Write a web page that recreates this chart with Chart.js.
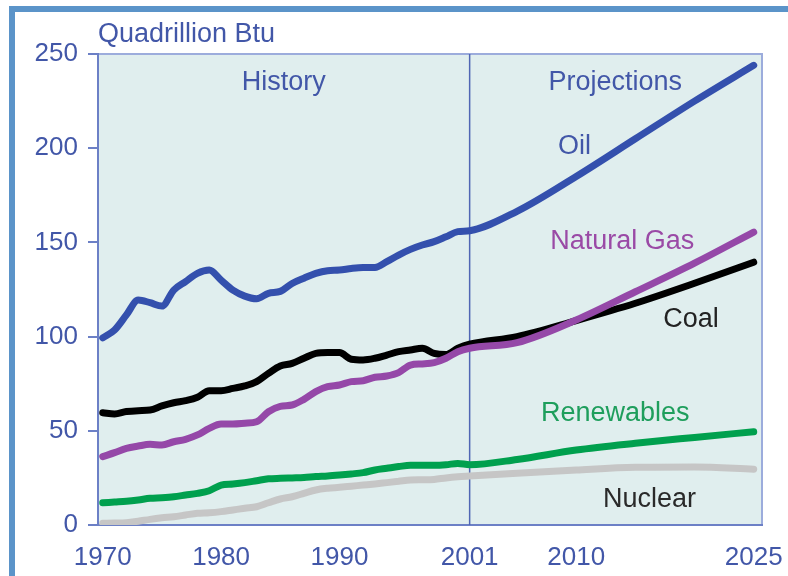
<!DOCTYPE html>
<html>
<head>
<meta charset="utf-8">
<script src="https://cdn.jsdelivr.net/npm/chart.js@4.4.0/dist/chart.umd.min.js"></script>
<style>
  html, body { margin: 0; padding: 0; background: #ffffff; }
  #wrap { width: 788px; height: 576px; }
</style>
</head>
<body>
<div id="wrap"><canvas id="energyChart" width="788" height="576"></canvas></div>
<script>
// ===== DATA =====
const histYears = [1970, 1971, 1972, 1973, 1974, 1975, 1976, 1977, 1978, 1979,
                   1980, 1981, 1982, 1983, 1984, 1985, 1986, 1987, 1988, 1989,
                   1990, 1991, 1992, 1993, 1994, 1995, 1996, 1997, 1998, 1999,
                   2000, 2001];
const projYears = [2005, 2010, 2015, 2020, 2025];

const oilValues = [99.3, 103.5, 111.5, 119.4, 118, 116.2, 124.7, 129.2, 133.6, 135.3,
                   130, 124.7, 121.5, 120.1, 123, 124, 128.2, 131, 133.6, 135,
                   135.3, 136.2, 136.7, 136.7, 139.8, 143.3, 146.3, 148.6, 150.4, 153,
                   155.7, 156.2,
                   166.5, 185, 205, 225, 244];
const gasValues = [36.3, 38.4, 40.7, 41.9, 42.8, 42.5, 44.2, 45.5, 47.8, 51.3,
                   53.6, 53.6, 54, 54.8, 60.1, 63, 63.7, 66.7, 70.8, 73.4,
                   74.3, 76.1, 76.6, 78.4, 79.1, 80.9, 84.9, 85.5, 86.2, 88.5,
                   92, 93.8,
                   96.8, 108.8, 123.8, 139, 155.5];
const coalValues = [59.6, 58.9, 60.2, 60.7, 61, 63.2, 64.9, 66, 67.8, 71.3,
                    71.3, 72.5, 73.8, 76.1, 80.5, 84.4, 85.8, 88.5, 91.1, 91.5,
                    91.5, 88, 87.6, 88.5, 90.2, 92, 92.9, 93.8, 91.1, 90.5,
                    93.8, 96,
                    100, 108.5, 117.7, 128.3, 139.5];
const renewValues = [11.8, 12.2, 12.6, 13.3, 14.2, 14.5, 15, 15.9, 16.8, 18.2,
                     21.2, 21.8, 22.5, 23.5, 24.5, 24.8, 25, 25.2, 25.7, 26,
                     26.5, 27.1, 27.8, 29.2, 30.1, 31, 31.7, 31.7, 31.7, 32,
                     32.7, 32,
                     34.8, 39.8, 43.4, 46.5, 49.5];
const nuclearValues = [0.9, 1.0, 1.2, 2.0, 3.0, 3.8, 4.4, 5.3, 6.2, 6.5,
                       7.1, 8.0, 8.9, 9.7, 11.8, 13.8, 15, 16.8, 18.6, 19.5,
                       20, 20.6, 21.2, 21.8, 22.5, 23.2, 23.9, 24, 24.2, 25,
                       25.6, 26,
                       27.5, 29.2, 30.6, 30.8, 29.6];

const tickYears = [1970, 1980, 1990, 2001, 2010, 2025];
const yTicks = [0, 50, 100, 150, 200, 250];
const splitYear = 2001;

// text labels inside the plot (x in years, y in quadrillion Btu)
const plotLabels = [
  { text: 'History', x: 1985.3, y: 235, color: '#4257a8' },
  { text: 'Projections', x: 2013.3, y: 235, color: '#4257a8' },
  { text: 'Oil', x: 2009.85, y: 201, color: '#4257a8' },
  { text: 'Natural Gas', x: 2013.9, y: 150.7, color: '#9a4aa6' },
  { text: 'Coal', x: 2019.7, y: 108.8, color: '#222222' },
  { text: 'Renewables', x: 2013.3, y: 59.4, color: '#1e9e5c' },
  { text: 'Nuclear', x: 2016.2, y: 13.3, color: '#2a2a2a' }
];

// ===== HELPERS =====
const allYears = histYears.concat(projYears);
function toPoints(values) {
  return allYears.map((yr, i) => ({ x: yr, y: values[i] }));
}
function makeLine(label, values, color, width) {
  return {
    label: label,
    data: toPoints(values),
    borderColor: color,
    borderWidth: width,
    pointRadius: 0,
    fill: false,
    cubicInterpolationMode: 'monotone',
    borderCapStyle: 'round',
    borderJoinStyle: 'round'
  };
}

const FONT = "'Liberation Sans', Arial, sans-serif";
const AXIS_BLUE = '#6c80c6';
const TEXT_BLUE = '#4257a8';

// plugin: outer frame, plot background, border, 2001 divider, texts
const decorPlugin = {
  id: 'decor',
  beforeDraw(chart) {
    const ctx = chart.ctx;
    const a = chart.chartArea;
    ctx.save();
    ctx.fillStyle = '#ffffff';
    ctx.fillRect(0, 0, chart.width, chart.height);
    // outer blue frame (top and left)
    ctx.fillStyle = '#5b94c9';
    ctx.fillRect(9, 6, chart.width - 9, 6);
    ctx.fillRect(9, 6, 6, chart.height - 6);
    // plot background
    ctx.fillStyle = '#e0eeee';
    ctx.fillRect(a.left, a.top, a.right - a.left, a.bottom - a.top);
    // top / right border
    ctx.strokeStyle = '#9cacdc';
    ctx.lineWidth = 2;
    ctx.beginPath();
    ctx.moveTo(a.left, a.top);
    ctx.lineTo(a.right, a.top);
    ctx.lineTo(a.right, a.bottom);
    ctx.stroke();
    ctx.restore();
  },
  beforeDatasetsDraw(chart) {
    const ctx = chart.ctx;
    const a = chart.chartArea;
    const xs = chart.scales.x.getPixelForValue(splitYear);
    ctx.save();
    ctx.strokeStyle = '#5066b4';
    ctx.lineWidth = 1.5;
    ctx.beginPath();
    ctx.moveTo(xs, a.top);
    ctx.lineTo(xs, a.bottom);
    ctx.stroke();
    ctx.restore();
  },
  afterDraw(chart) {
    const ctx = chart.ctx;
    const a = chart.chartArea;
    const sx = chart.scales.x;
    const sy = chart.scales.y;
    ctx.save();
    ctx.font = '27px ' + FONT;
    ctx.textBaseline = 'middle';
    // unit title above the axis
    ctx.textAlign = 'left';
    ctx.fillStyle = TEXT_BLUE;
    ctx.fillText('Quadrillion Btu', a.left, a.top - 19);
    ctx.textAlign = 'center';
    plotLabels.forEach(l => {
      ctx.fillStyle = l.color;
      ctx.fillText(l.text, sx.getPixelForValue(l.x), sy.getPixelForValue(l.y));
    });
    ctx.restore();
  }
};

// ===== CHART =====
const ctx = document.getElementById('energyChart').getContext('2d');
new Chart(ctx, {
  type: 'line',
  data: {
    datasets: [
      makeLine('Oil', oilValues, '#3450ad', 7),
      makeLine('Natural Gas', gasValues, '#9548a8', 7),
      makeLine('Coal', coalValues, '#000000', 7),
      makeLine('Renewables', renewValues, '#00a04e', 7),
      makeLine('Nuclear', nuclearValues, '#c6c6c6', 7)
    ]
  },
  options: {
    responsive: false,
    animation: false,
    devicePixelRatio: 1,
    layout: { padding: { top: 54, right: 26, bottom: 0, left: 0 } },
    plugins: {
      legend: { display: false },
      tooltip: { enabled: false }
    },
    scales: {
      x: {
        type: 'linear',
        min: 1969.6,
        max: 2025.7,
        afterBuildTicks: scale => { scale.ticks = tickYears.map(v => ({ value: v })); },
        afterFit: scale => {
          scale.height = 51;
          scale.paddingLeft = 0;
          scale.paddingRight = 0;
        },
        grid: { display: true, drawOnChartArea: false, drawTicks: false },
        border: { display: true, color: AXIS_BLUE, width: 2 },
        ticks: {
          autoSkip: false,
          maxRotation: 0,
          padding: 17,
          color: TEXT_BLUE,
          font: { family: FONT, size: 26 },
          callback: v => String(v)
        }
      },
      y: {
        min: 0,
        max: 250,
        afterBuildTicks: scale => { scale.ticks = yTicks.map(v => ({ value: v })); },
        afterFit: scale => {
          scale.width = 98;
          scale.paddingTop = 0;
          scale.paddingBottom = 0;
        },
        grid: { drawOnChartArea: false, drawTicks: true, tickLength: 10, color: AXIS_BLUE, lineWidth: 2 },
        border: { display: true, color: AXIS_BLUE, width: 2 },
        ticks: {
          padding: 10,
          color: TEXT_BLUE,
          font: { family: FONT, size: 26 }
        }
      }
    }
  },
  plugins: [decorPlugin]
});
</script>
</body>
</html>
